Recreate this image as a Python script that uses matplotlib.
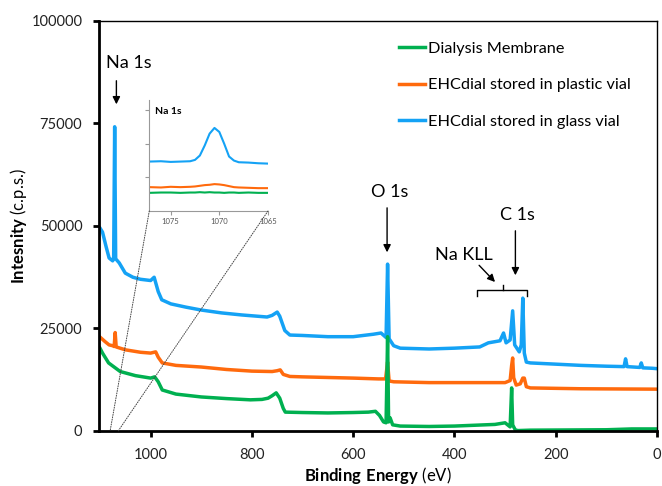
import numpy as np
import matplotlib
matplotlib.use("Agg")
import matplotlib.pyplot as plt
from matplotlib.patches import ConnectionPatch

plt.rcParams["font.family"] = ["Lato", "DejaVu Sans"]
plt.rcParams["mathtext.fontset"] = "custom"
plt.rcParams["mathtext.rm"] = "Lato"
plt.rcParams["mathtext.bf"] = "Lato:bold"

GREEN = "#00B050"
ORANGE = "#FF6A0D"
BLUE = "#14A2F5"

labels = ["Dialysis Membrane", "EHCdial stored in plastic vial", "EHCdial stored in glass vial"]

# survey spectra: binding energy (eV) and counts
glass_ev = [1100, 1095, 1088, 1082, 1075, 1073, 1071, 1069, 1062, 1050, 1035, 1020, 1000, 993,
            985, 978, 960, 930, 900, 860, 820, 790, 770, 760, 750, 745, 735, 725, 700, 650, 600,
            560, 545, 535, 532, 529, 520, 507, 450, 400, 350, 333, 310, 303, 298, 290, 285, 281,
            272, 268, 265, 262, 258, 250, 200, 150, 100, 65, 62, 59, 34, 31, 28, 10, 0]
glass_cps = [49500, 48500, 45000, 42200, 41500, 42000, 74200, 42000, 41000, 38500, 37500, 37000,
             36700, 37500, 34000, 32000, 31000, 30200, 29500, 28800, 28300, 28000, 27800, 28200,
             29000, 28000, 24500, 23400, 23300, 23000, 23000, 23600, 23900, 22800, 40700, 22500,
             20800, 20200, 20000, 20200, 20500, 21500, 22000, 23900, 21500, 22200, 29300, 21000,
             19300, 21000, 32400, 19000, 16800, 16600, 16300, 16000, 15800, 15700, 17600, 15700,
             15500, 16600, 15400, 15300, 15200]

plastic_ev = [1100, 1090, 1082, 1075, 1072, 1070, 1068, 1050, 1020, 1000, 990, 985, 977, 950, 900,
              850, 800, 760, 750, 744, 738, 725, 700, 600, 550, 536, 532, 529, 520, 450, 350, 300,
              290, 287, 285, 283, 278, 270, 265, 262, 258, 250, 150, 0]
plastic_cps = [22900, 21800, 21000, 20800, 20600, 24000, 20500, 19800, 19200, 19000, 19300, 18000,
               16600, 16000, 15600, 15000, 14600, 14500, 14700, 14900, 13800, 13300, 13200, 12900,
               12700, 12700, 16800, 12200, 12000, 11800, 11800, 11800, 12300, 16000, 17800, 13000,
               11200, 11500, 12900, 12900, 10800, 10500, 10300, 10200]

membrane_ev = [1100, 1095, 1083, 1060, 1030, 1000, 992, 985, 977, 950, 900, 850, 803, 780, 768, 760,
               752, 745, 738, 734, 700, 650, 600, 570, 556, 548, 540, 535, 532, 530, 527, 522, 507,
               450, 400, 320, 300, 290, 287, 285, 280, 275, 250, 100, 50, 0]
membrane_cps = [20200, 19000, 16600, 14500, 13500, 12900, 13200, 12000, 10000, 9000, 8300, 7900,
                7600, 7700, 8000, 8600, 9300, 8000, 5500, 4600, 4500, 4400, 4500, 4600, 4800, 3800,
                2200, 2000, 23000, 2200, 3200, 1500, 1200, 1100, 1200, 1600, 2000, 1000, 10500, 1500,
                300, 100, 200, 300, 500, 500]

# Na 1s detail (inset), arbitrary units
inset_ev = [1077.2, 1076, 1075, 1074, 1073, 1072.5, 1072, 1071.5, 1071, 1070.5, 1070, 1069.5, 1069,
            1068.5, 1068, 1067, 1066, 1065]
inset_glass = [1.47, 1.48, 1.46, 1.47, 1.48, 1.52, 1.65, 1.95, 2.3, 2.47, 2.35, 2.0, 1.62, 1.5,
               1.45, 1.44, 1.42, 1.41]
inset_plastic = [0.71, 0.70, 0.72, 0.71, 0.72, 0.73, 0.75, 0.77, 0.78, 0.80, 0.79, 0.77, 0.74,
                 0.71, 0.70, 0.69, 0.68, 0.68]
inset_membrane = [0.54, 0.55, 0.55, 0.54, 0.55, 0.55, 0.56, 0.55, 0.56, 0.55, 0.55, 0.54, 0.55,
                  0.55, 0.54, 0.55, 0.54, 0.54]


def plot_survey():
    fig = plt.figure(figsize=(6.62, 4.86), dpi=100)
    ax = fig.add_axes([0.1495, 0.1132, 0.8429, 0.8436])

    l3, = ax.plot(glass_ev, glass_cps, color=BLUE, lw=2.5)
    l2, = ax.plot(plastic_ev, plastic_cps, color=ORANGE, lw=2.5)
    l1, = ax.plot(membrane_ev, membrane_cps, color=GREEN, lw=2.5)

    ax.set_xlim(1102, 0)
    ax.set_ylim(0, 100000)
    ax.set_xticks([1000, 800, 600, 400, 200, 0])
    ax.set_yticks([0, 25000, 50000, 75000, 100000])
    ax.tick_params(direction="out", length=4, width=2, labelsize=10.5, pad=8,
                   labelcolor="#222222")
    for side in ["left", "bottom"]:
        ax.spines[side].set_linewidth(2)
    for side in ["top", "right"]:
        ax.spines[side].set_linewidth(1)

    ax.set_xlabel(r"$\mathbf{Binding\ Energy}$ (eV)", fontsize=12)
    ax.set_ylabel(r"$\mathbf{Intesnity}$ (c.p.s.)", fontsize=12)
    ax.xaxis.set_label_coords(0.5, -0.082)
    ax.yaxis.set_label_coords(-0.125, 0.5)

    ax.legend([l1, l2, l3], labels, loc="upper left", bbox_to_anchor=(0.537, 0.95),
              frameon=False, fontsize=11.7, handlelength=1.65, handletextpad=0.15,
              labelspacing=1.36, borderaxespad=0, borderpad=0)

    arrow = dict(arrowstyle="-|>", color="black", lw=1, mutation_scale=11)
    ax.annotate("", xy=(1067.6, 79000), xytext=(1067.6, 86100), arrowprops=arrow)
    ax.text(1043, 89800, "Na 1s", ha="center", va="center", fontsize=13)
    ax.annotate("", xy=(533, 42900), xytext=(533, 55100), arrowprops=arrow)
    ax.text(527, 58400, "O 1s", ha="center", va="center", fontsize=13)
    ax.annotate("", xy=(279.6, 37300), xytext=(279.6, 49500), arrowprops=arrow)
    ax.text(276, 52700, "C 1s", ha="center", va="center", fontsize=13)
    ax.annotate("", xy=(316, 35850), xytext=(355, 40900), arrowprops=arrow)
    ax.text(382, 42900, "Na KLL", ha="center", va="center", fontsize=13)
    ax.plot([354.7, 354.7, 256, 256], [32930, 34390, 34390, 32930], color="black", lw=1)
    ax.plot([304.7, 304.7], [34390, 35600], color="black", lw=1)

    ins = fig.add_axes([0.2255, 0.5658, 0.1793, 0.2284])
    ins.plot(inset_ev, inset_glass, color=BLUE, lw=1.5)
    ins.plot(inset_ev, inset_plastic, color=ORANGE, lw=1.5)
    ins.plot(inset_ev, inset_membrane, color=GREEN, lw=1.5)
    ins.set_xlim(1077.2, 1065)
    ins.set_ylim(0, 3.3)
    ins.set_xticks([1075, 1070, 1065])
    ins.set_yticks([1, 2, 3])
    ins.set_yticklabels([])
    ins.tick_params(direction="out", length=3, width=0.8, color="#999999",
                    labelsize=5.5, labelcolor="#555555", pad=2)
    for side in ["top", "right"]:
        ins.spines[side].set_visible(False)
    for side in ["left", "bottom"]:
        ins.spines[side].set_color("#999999")
        ins.spines[side].set_linewidth(0.8)
    ins.text(0.05, 0.9, "Na 1s", transform=ins.transAxes, fontsize=7.5,
             fontweight="bold", ha="left", va="center")

    for xa, xb in [(0, 1080), (1, 1064)]:
        con = ConnectionPatch(xyA=(xa, 0), coordsA=ins.transAxes, xyB=(xb, 0), coordsB=ax.transData,
                              color="#444444", lw=0.7, linestyle=(0, (1, 1.5)))
        fig.add_artist(con)

    fig.savefig("out.png", dpi=100)


if __name__ == "__main__":
    plot_survey()
